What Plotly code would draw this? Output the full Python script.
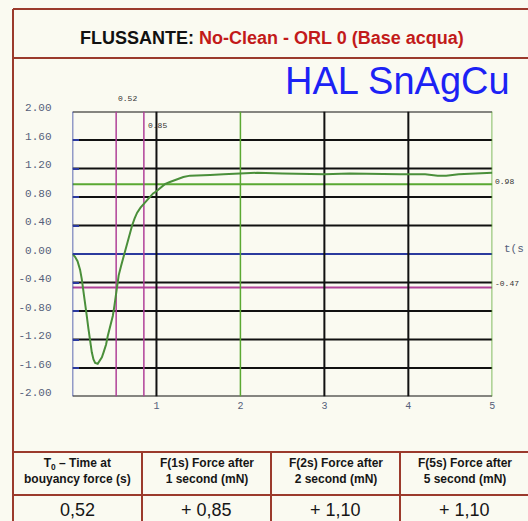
import plotly.graph_objects as go

# ---------------- data ----------------
time_s = [0, 0.03, 0.06, 0.09, 0.11, 0.13, 0.15, 0.17, 0.19, 0.21, 0.23, 0.25, 0.27,
          0.30, 0.32, 0.35, 0.37, 0.40, 0.42, 0.45, 0.48, 0.50, 0.53, 0.55, 0.58,
          0.62, 0.65, 0.68, 0.71, 0.74, 0.77, 0.81, 0.85, 0.89, 0.92, 0.96, 1.00,
          1.05, 1.10, 1.16, 1.24, 1.32, 1.40, 1.52, 1.64, 1.80, 2.00, 2.20, 2.50,
          2.80, 3.00, 3.30, 3.60, 3.90, 4.20, 4.35, 4.45, 4.60, 4.80, 5.00]
force_mn = [0, -0.04, -0.10, -0.22, -0.35, -0.50, -0.68, -0.87, -1.05, -1.22, -1.38, -1.48, -1.53,
            -1.54, -1.51, -1.45, -1.38, -1.27, -1.15, -1.02, -0.87, -0.72, -0.44, -0.30, -0.16,
            0.02, 0.17, 0.29, 0.40, 0.50, 0.58, 0.65, 0.70, 0.76, 0.80, 0.85, 0.88,
            0.93, 0.98, 1.01, 1.05, 1.08, 1.10, 1.11, 1.11, 1.12, 1.13, 1.14, 1.13,
            1.12, 1.12, 1.13, 1.12, 1.12, 1.12, 1.10, 1.10, 1.12, 1.13, 1.14]

y_ticks = [2.0, 1.6, 1.2, 0.8, 0.4, 0.0, -0.4, -0.8, -1.2, -1.6, -2.0]
x_ticks = [1, 2, 3, 4, 5]

# vertical reference lines (time) and their colours
v_lines = [0, 0.52, 0.85, 1, 2, 3, 4, 5]
v_colors = ["#2b3a9e", "#b04098", "#b04098", "#111111", "#5aa832", "#111111", "#111111", "#5aa832"]

# reference values
t0_value = 0.52
f1_time = 0.85
f_ref_high = 0.98
f_ref_low = -0.47

title_black = "FLUSSANTE: "
title_red = "No-Clean - ORL 0 (Base acqua)"
subtitle = "HAL SnAgCu"

table_headers = ["T<sub>0</sub> – Time at<br>bouyancy force (s)",
                 "F(1s) Force after<br>1 second (mN)",
                 "F(2s) Force after<br>2 second (mN)",
                 "F(5s) Force after<br>5 second (mN)"]
table_values = ["0,52", "+ 0,85", "+ 1,10", "+ 1,10"]

# ---------------- layout helpers ----------------
W, H = 528, 521
def px(x):
    return x / W
def py(y):
    return 1 - y / H

BORDER = "#9b3a2c"
BG = "#fafaf1"
AXIS_TXT = "#56607a"

fig = go.Figure()
fig.add_trace(go.Scatter(x=time_s, y=force_mn, mode="lines",
                         line=dict(color="#4a8f3a", width=2), showlegend=False,
                         hoverinfo="skip"))

shapes = []
# horizontal grid lines
for yv in y_ticks:
    col = "#2b3a9e" if yv == 0 else "#111111"
    shapes.append(dict(type="line", xref="x", yref="y", x0=0, x1=5, y0=yv, y1=yv,
                       line=dict(color=col, width=2), layer="between"))
# reference horizontals
shapes.append(dict(type="line", xref="x", yref="y", x0=0, x1=5, y0=f_ref_high, y1=f_ref_high,
                   line=dict(color="#5aa832", width=2), layer="between"))
shapes.append(dict(type="line", xref="x", yref="y", x0=0, x1=5, y0=f_ref_low, y1=f_ref_low,
                   line=dict(color="#b04098", width=2), layer="between"))
# verticals
for xv, c in zip(v_lines, v_colors):
    shapes.append(dict(type="line", xref="x", yref="y", x0=xv, x1=xv, y0=-2, y1=2,
                       line=dict(color=c, width=2 if c == "#111111" else 1.5), layer="between"))

# frame and table
frame = dict(color=BORDER, width=2)
shapes.append(dict(type="line", xref="paper", yref="paper", x0=px(13), x1=px(13), y0=py(9), y1=py(521), line=frame))
shapes.append(dict(type="line", xref="paper", yref="paper", x0=px(13), x1=px(528), y0=py(9), y1=py(9), line=frame))
shapes.append(dict(type="line", xref="paper", yref="paper", x0=px(13), x1=px(528), y0=py(58), y1=py(58), line=frame))
shapes.append(dict(type="line", xref="paper", yref="paper", x0=px(13), x1=px(528), y0=py(452), y1=py(452), line=frame))
shapes.append(dict(type="line", xref="paper", yref="paper", x0=px(13), x1=px(528), y0=py(495), y1=py(495), line=frame))
col_edges = [13, 142, 271, 400, 529]
for cx in col_edges[1:-1]:
    shapes.append(dict(type="line", xref="paper", yref="paper", x0=px(cx), x1=px(cx), y0=py(452), y1=py(521), line=frame))

annotations = []
annotations.append(dict(xref="paper", yref="paper", x=px(272), y=py(38), xanchor="center", yanchor="middle",
                        text=f"<b>{title_black}<span style='color:#c21a1a'>{title_red}</span></b>",
                        showarrow=False, font=dict(family="Liberation Sans, Arial", size=18, color="#111111")))
annotations.append(dict(xref="paper", yref="paper", x=px(512), y=py(81), xanchor="right", yanchor="middle",
                        text=subtitle, showarrow=False,
                        font=dict(family="Liberation Sans, Arial", size=38, color="#1c22f5")))
for i, (h, v) in enumerate(zip(table_headers, table_values)):
    cxm = (col_edges[i] + col_edges[i + 1]) / 2
    annotations.append(dict(xref="paper", yref="paper", x=px(cxm), y=py(471), xanchor="center", yanchor="middle",
                            text=f"<b>{h}</b>", showarrow=False,
                            font=dict(family="Liberation Sans, Arial", size=12, color="#161616")))
    annotations.append(dict(xref="paper", yref="paper", x=px(cxm), y=py(510), xanchor="center", yanchor="middle",
                            text=v, showarrow=False,
                            font=dict(family="Liberation Sans, Arial", size=18, color="#161616")))

mono = "Liberation Mono, Courier New, monospace"
annotations.append(dict(xref="x", yref="paper", x=t0_value, y=py(99), xanchor="left", yanchor="middle",
                        text=f"{t0_value:.2f}", showarrow=False, xshift=0,
                        font=dict(family=mono, size=8, color="#333333")))
annotations.append(dict(xref="x", yref="y", x=f1_time, y=1.80, xanchor="left", yanchor="middle",
                        text=f"{f1_time:.2f}", showarrow=False, xshift=2,
                        font=dict(family=mono, size=8, color="#333333")))
annotations.append(dict(xref="x", yref="y", x=5, y=f_ref_high, xanchor="left", yanchor="middle",
                        text=f"{f_ref_high:.2f}", showarrow=False, xshift=1, yshift=3,
                        font=dict(family=mono, size=8, color="#333333")))
annotations.append(dict(xref="x", yref="y", x=5, y=f_ref_low, xanchor="left", yanchor="middle",
                        text=f"{f_ref_low:.2f}", showarrow=False, xshift=1, yshift=4,
                        font=dict(family=mono, size=8, color="#333333")))
annotations.append(dict(xref="x", yref="y", x=5, y=0.0, xanchor="left", yanchor="middle",
                        text="t(s", showarrow=False, xshift=10, yshift=5,
                        font=dict(family=mono, size=11, color=AXIS_TXT)))

fig.update_layout(
    width=W, height=H, autosize=False,
    margin=dict(l=0, r=0, t=0, b=0, pad=0, autoexpand=False),
    paper_bgcolor=BG, plot_bgcolor=BG,
    shapes=shapes, annotations=annotations,
    xaxis=dict(domain=[px(72.5), px(492.3)], range=[0, 5], tickvals=x_ticks,
               ticktext=[str(v) for v in x_ticks], showgrid=False, zeroline=False,
               showline=False, ticks="", ticklabelstandoff=1, automargin=False,
               tickfont=dict(family=mono, size=10, color=AXIS_TXT)),
    yaxis=dict(domain=[py(396.5), py(111.5)], range=[-2, 2], tickvals=y_ticks,
               ticktext=[f"{v:.2f}" for v in y_ticks], showgrid=False, zeroline=False,
               showline=False, ticks="inside", ticklen=6, tickwidth=2, tickcolor="#2b3a9e",
               ticklabelstandoff=20, ticklabelshift=-4, automargin=False,
               tickfont=dict(family=mono, size=11, color=AXIS_TXT)),
)

page_css = ("var s=document.createElement('style');"
            "s.textContent='html,body{margin:0!important;padding:0!important;overflow:hidden;"
            "background:#fafaf1;}';"
            "document.head.appendChild(s);")

fig.write_html("out.html", config={"displayModeBar": False}, post_script=page_css)
